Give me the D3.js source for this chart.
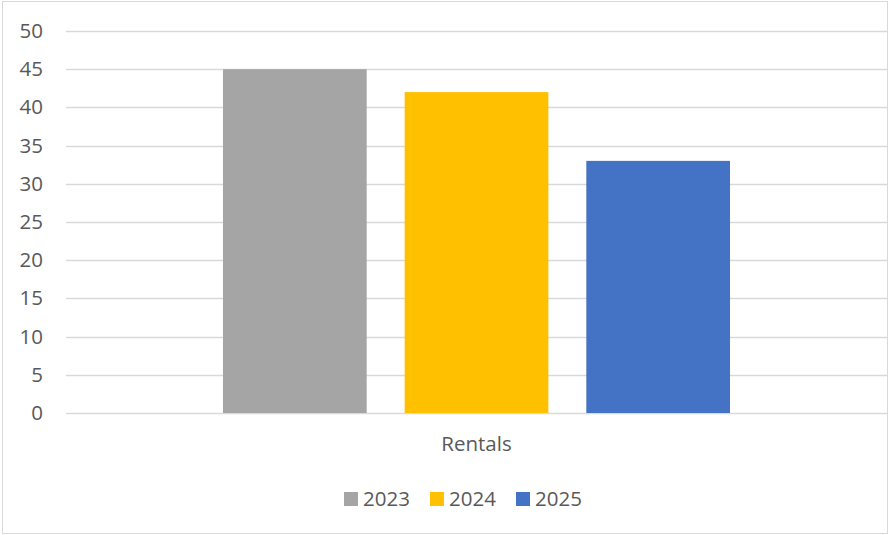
<!DOCTYPE html>
<html><head><meta charset="utf-8">
<script src="https://cdn.jsdelivr.net/npm/d3@7"></script>
<style>html,body{margin:0;padding:0;background:#fff}svg{display:block}</style>
</head><body>
<svg id="c" width="889" height="535"></svg>
<script>
const categories = ["Rentals"];
const seriesNames = ["2023", "2024", "2025"];
const seriesValues = [[45], [42], [33]];
const seriesColors = ["#A5A5A5", "#FFC000", "#4472C4"];
const yTicks = [0, 5, 10, 15, 20, 25, 30, 35, 40, 45, 50];

(function () {
const svg = d3.select("#c");
const font = "'Open Sans', sans-serif";
const textColor = "#595959";
const fs = 20.5;

svg.append("rect").attr("x", 2.5).attr("y", 1.5).attr("width", 885).attr("height", 532)
  .attr("fill", "#fff").attr("stroke", "#d9d9d9").attr("stroke-width", 1);

const pLeft = 66, pRight = 887, pTop = 31, pBottom = 413;
const y = d3.scaleLinear().domain([0, 50]).range([pBottom, pTop]);
const x0 = d3.scaleBand().domain(categories).range([pLeft, pRight]).padding(0.2364);
const x1 = d3.scaleBand().domain(seriesNames).range([0, x0.bandwidth()]).paddingInner(0.209).paddingOuter(0);

// gridlines
svg.append("g").selectAll("line").data(yTicks).join("line")
  .attr("x1", pLeft).attr("x2", pRight)
  .attr("y1", d => Math.round(y(d)) + 0.5).attr("y2", d => Math.round(y(d)) + 0.5)
  .attr("stroke", "#d9d9d9").attr("stroke-width", 1.5);

// y axis labels
const yAxis = d3.axisLeft(y).tickValues(yTicks).tickSize(0).tickPadding(0);
const ga = svg.append("g").attr("transform", "translate(43,0)").call(yAxis);
ga.select(".domain").remove();
ga.selectAll("text").attr("font-family", font).attr("font-size", fs).attr("fill", textColor);

// bars
const g = svg.append("g");
categories.forEach((c, ci) => {
  seriesNames.forEach((s, si) => {
    g.append("rect")
      .attr("x", x0(c) + x1(s))
      .attr("y", y(seriesValues[si][ci]))
      .attr("width", x1.bandwidth())
      .attr("height", y(0) - y(seriesValues[si][ci]))
      .attr("fill", seriesColors[si]);
  });
});

// category axis label
const xAxis = d3.axisBottom(x0).tickSize(0).tickPadding(0);
const gx = svg.append("g").attr("transform", "translate(0,444)").call(xAxis);
gx.select(".domain").remove();
gx.selectAll("text").attr("font-family", font).attr("font-size", fs).attr("fill", textColor).attr("dy", "0.32em");

// legend
const legendX = [344, 430, 516];
const lg = svg.append("g");
seriesNames.forEach((s, i) => {
  lg.append("rect").attr("x", legendX[i]).attr("y", 492).attr("width", 14).attr("height", 14).attr("fill", seriesColors[i]);
  lg.append("text").attr("x", legendX[i] + 19).attr("y", 499).attr("dy", "0.35em")
    .attr("font-family", font).attr("font-size", fs).attr("fill", textColor).text(s);
});
})();
</script>
</body></html>
